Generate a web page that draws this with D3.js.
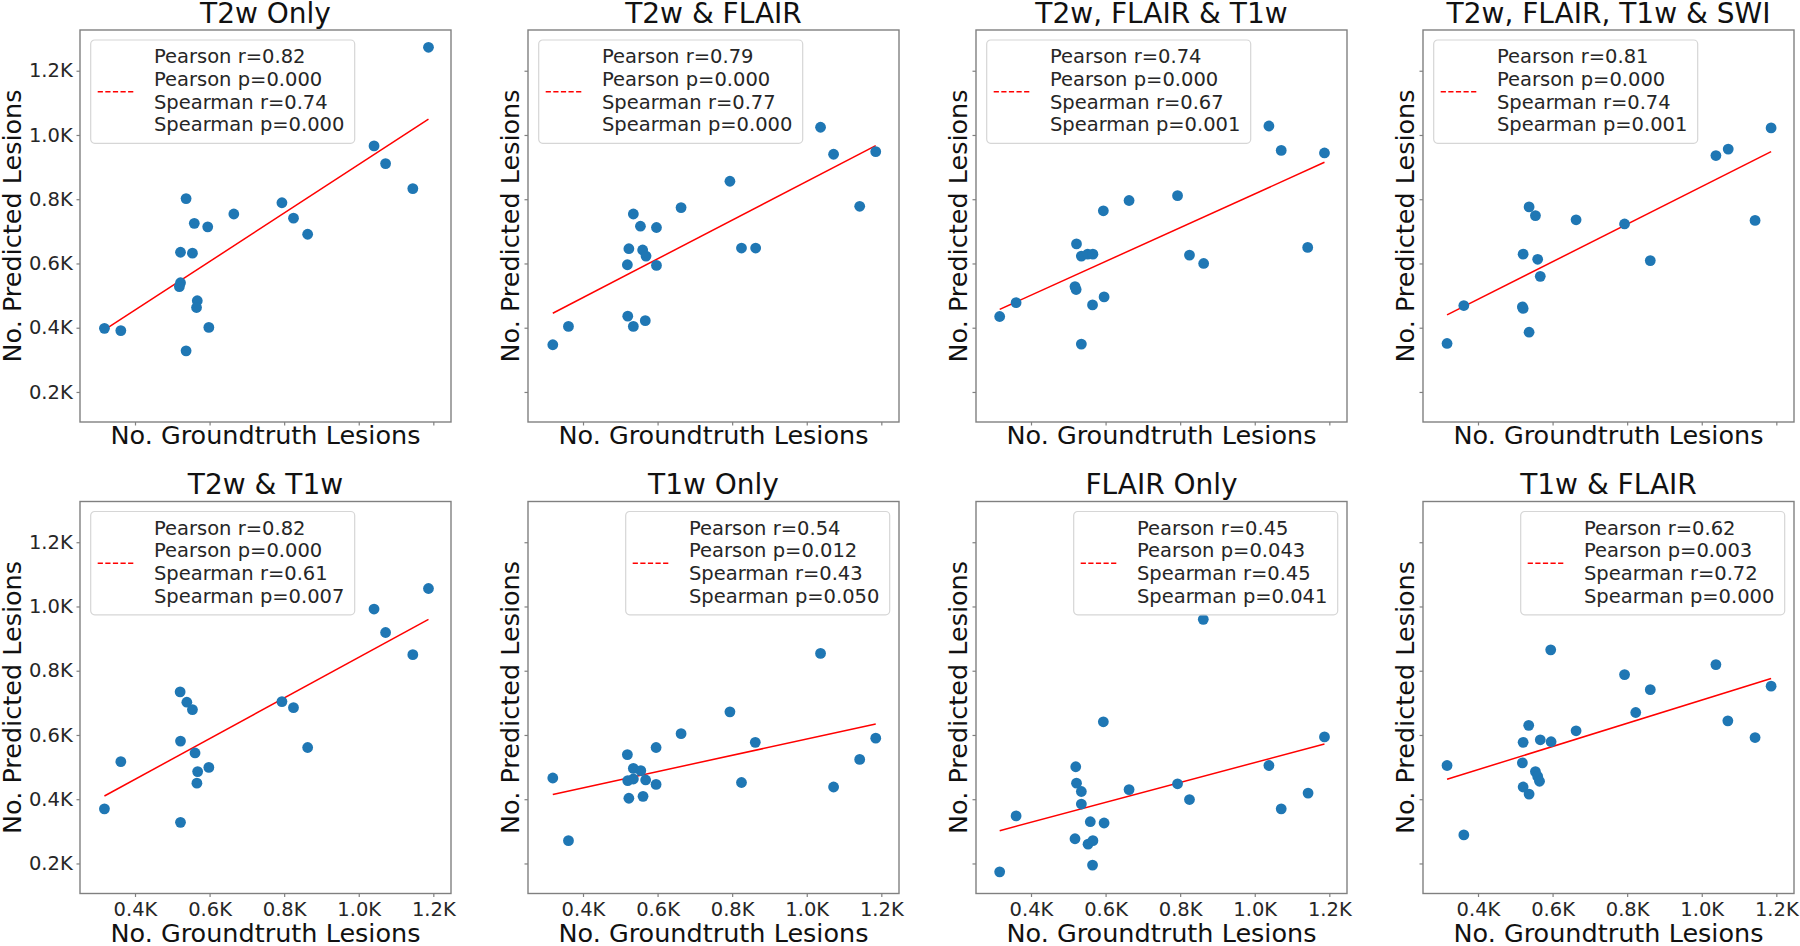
<!DOCTYPE html>
<html>
<head>
<meta charset="utf-8">
<script src="https://cdn.jsdelivr.net/npm/d3@7"></script>
<style>
  body { margin: 0; background: #fff; }
  svg { display: block; font-family: "DejaVu Sans", sans-serif; }
</style>
</head>
<body>
<div id="chart"></div>
<script>
// [groundtruth, predicted] lesion counts
const t2wOnly = [[318,398],[362,391],[537,802],[559,725],[595,714],[522,635],[554,632],[522,540],[519,528],[567,484],[565,463],[598,401],[537,328],[665,754],[794,789],[825,741],[863,691],[1041,966],[1072,911],[1145,833],[1187,1273]];
const t2wFlair = [[319,347],[361,404],[535,754],[554,716],[597,712],[523,646],[560,642],[569,623],[519,596],[597,594],[520,436],[535,404],[567,422],[663,774],[794,856],[825,648],[863,648],[1037,1024],[1072,940],[1142,778],[1185,948]];
const t2wFlairT1w = [[316,435],[360,478],[535,349],[522,661],[535,623],[552,629],[566,629],[594,764],[518,528],[521,519],[565,471],[596,496],[663,796],[793,811],[825,626],[863,600],[1038,1028],[1071,952],[1142,650],[1187,944]];
const t2wFlairT1wSwi = [[317,351],[362,469],[537,776],[554,749],[521,629],[560,613],[567,560],[519,465],[521,460],[537,386],[663,736],[793,723],[862,609],[1038,936],[1071,956],[1143,734],[1186,1022]];
const t2wT1w = [[318,370],[362,517],[521,734],[539,702],[554,679],[522,581],[561,544],[568,486],[598,499],[566,450],[522,328],[794,704],[825,685],[863,561],[1041,992],[1072,919],[1145,850],[1187,1056]];
const t1wOnly = [[319,466],[361,271],[519,539],[535,496],[555,489],[520,458],[535,463],[568,460],[523,403],[561,409],[596,561],[596,446],[663,604],[794,672],[825,452],[862,577],[1037,854],[1072,438],[1142,524],[1185,590]];
const flairOnly = [[316,174],[360,348],[520,501],[522,450],[535,424],[535,385],[518,277],[559,330],[553,260],[566,271],[565,195],[594,641],[596,326],[663,430],[793,448],[825,399],[862,960],[1038,505],[1071,370],[1143,419],[1187,594]];
const t1wFlair = [[317,505],[362,289],[536,630],[521,577],[567,585],[596,579],[519,513],[554,486],[560,471],[565,456],[521,438],[537,416],[595,865],[663,613],[793,788],[823,670],[862,741],[1038,819],[1070,644],[1143,592],[1186,752]];

const panelData = [t2wOnly, t2wFlair, t2wFlairT1w, t2wFlairT1wSwi, t2wT1w, t1wOnly, flairOnly, t1wFlair];
const titles = ["T2w Only", "T2w & FLAIR", "T2w, FLAIR & T1w", "T2w, FLAIR, T1w & SWI",
                "T2w & T1w", "T1w Only", "FLAIR Only", "T1w & FLAIR"];
// fitted line: predicted value at the smallest and largest groundtruth count
const fitEnds = [[393,1049],[445,967],[457,915],[440,948],[410,960],[415,634],[302,572],[462,776]];
const pearsonR = ["0.82","0.79","0.74","0.81","0.82","0.54","0.45","0.62"];
const pearsonP = ["0.000","0.000","0.000","0.000","0.000","0.012","0.043","0.003"];
const spearmanR = ["0.74","0.77","0.67","0.74","0.61","0.43","0.45","0.72"];
const spearmanP = ["0.000","0.000","0.001","0.001","0.007","0.050","0.041","0.000"];
const legendRight = [false,false,false,false,false,true,true,true];
const tickValues = [200, 400, 600, 800, 1000, 1200];

const W = 1800, H = 946;
const panelW = 371, panelH = 392;
const lefts = [80, 528, 976, 1423];
const tops = [30, 501.5];
const textColor = "#262626";
const spineColor = "#808080";

const x = d3.scaleLinear().domain([252.5, 1247.4]).range([0, panelW]);
const y = d3.scaleLinear().domain([106.5, 1326.8]).range([panelH, 0]);
const fmt = d => (d / 1000).toFixed(1) + "K";

const svg = d3.select("#chart").append("svg")
  .attr("width", W)
  .attr("height", H);

svg.append("rect").attr("width", W).attr("height", H).attr("fill", "#fff");

panelData.forEach((data, i) => {
  const col = i % 4, row = Math.floor(i / 4);
  const g = svg.append("g")
    .attr("transform", `translate(${lefts[col]},${tops[row]})`);

  // x axis (labels only on the bottom row)
  const xAxis = g.append("g")
    .attr("transform", `translate(0,${panelH})`)
    .call(d3.axisBottom(x).tickValues(tickValues.slice(1)).tickSize(3.5).tickPadding(5.5)
      .tickFormat(row === 1 ? fmt : ""));
  // y axis (labels only on the first column)
  const yAxis = g.append("g")
    .call(d3.axisLeft(y).tickValues(tickValues).tickSize(3.5).tickPadding(3.8)
      .tickFormat(col === 0 ? fmt : ""));
  [xAxis, yAxis].forEach(ax => {
    ax.select(".domain").remove();
    ax.selectAll("line").attr("stroke", spineColor).attr("stroke-width", 1.2);
    ax.selectAll("text").attr("fill", textColor)
      .style("font-size", "19.5px").style("font-family", "DejaVu Sans");
  });

  // frame
  g.append("rect")
    .attr("width", panelW).attr("height", panelH)
    .attr("fill", "none").attr("stroke", spineColor).attr("stroke-width", 1.4);

  // fitted line
  const [xMin, xMax] = d3.extent(data, d => d[0]);
  g.append("line")
    .attr("x1", x(xMin)).attr("y1", y(fitEnds[i][0]))
    .attr("x2", x(xMax)).attr("y2", y(fitEnds[i][1]))
    .attr("stroke", "red").attr("stroke-width", 1.5);

  // points
  g.selectAll(".pt")
    .data(data)
    .enter().append("circle")
    .attr("class", "pt")
    .attr("cx", d => x(d[0]))
    .attr("cy", d => y(d[1]))
    .attr("r", 5.4)
    .attr("fill", "#1f77b4");

  // title
  g.append("text")
    .attr("x", panelW / 2).attr("y", -7.5)
    .attr("text-anchor", "middle")
    .attr("fill", "#111")
    .style("font-size", "28px")
    .text(titles[i]);

  // axis labels
  g.append("text")
    .attr("x", panelW / 2).attr("y", row === 0 ? panelH + 22.3 : panelH + 48)
    .attr("text-anchor", "middle")
    .attr("fill", "#111")
    .style("font-size", "25.5px")
    .text("No. Groundtruth Lesions");
  g.append("text")
    .attr("transform", `translate(${col === 0 ? -59.3 : -9.3},${panelH / 2}) rotate(-90)`)
    .attr("text-anchor", "middle")
    .attr("fill", "#111")
    .style("font-size", "25.5px")
    .text("No. Predicted Lesions");

  // legend
  const legW = 264, legH = 103.3;
  const lx = legendRight[i] ? panelW - 9.3 - legW : 10.7;
  const leg = g.append("g").attr("transform", `translate(${lx},10)`);
  leg.append("rect")
    .attr("width", legW).attr("height", legH)
    .attr("rx", 4)
    .attr("fill", "#fff").attr("fill-opacity", 0.8)
    .attr("stroke", "#d6d6d6").attr("stroke-width", 1.2);
  leg.append("line")
    .attr("x1", 7).attr("x2", 44.3)
    .attr("y1", legH / 2).attr("y2", legH / 2)
    .attr("stroke", "red").attr("stroke-width", 1.5)
    .attr("stroke-dasharray", "5.2,2.4");
  const lines = [`Pearson r=${pearsonR[i]}`, `Pearson p=${pearsonP[i]}`,
                 `Spearman r=${spearmanR[i]}`, `Spearman p=${spearmanP[i]}`];
  leg.selectAll(".lt")
    .data(lines)
    .enter().append("text")
    .attr("class", "lt")
    .attr("x", 63.3)
    .attr("y", (d, k) => 23.3 + k * 22.6)
    .attr("fill", textColor)
    .style("font-size", "19.5px")
    .text(d => d);
});
</script>
</body>
</html>
